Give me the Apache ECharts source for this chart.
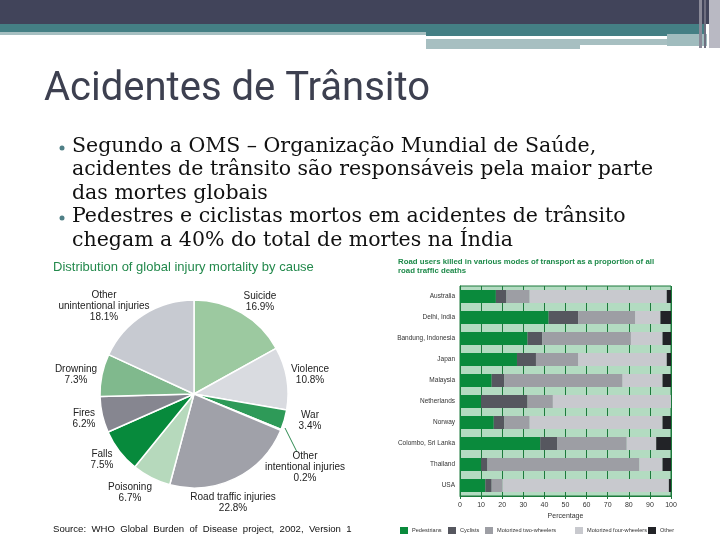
<!DOCTYPE html>
<html><head><meta charset="utf-8">
<script src="https://cdn.jsdelivr.net/npm/echarts@6/dist/echarts.min.js"></script>
<style>html,body{margin:0;padding:0;background:#fff;}#c{width:720px;height:540px;}</style>
</head><body><div id="c"></div>
<script>
// ---- data ----
const pieNames = ['Suicide','Violence','War','Other\nintentional injuries','Road traffic injuries','Poisoning','Falls','Fires','Drowning','Other\nunintentional injuries'];
const pieValues = [16.9,10.8,3.4,0.2,22.8,6.7,7.5,6.2,7.3,18.1];
const countries = ['Australia','Delhi, India','Bandung, Indonesia','Japan','Malaysia','Netherlands','Norway','Colombo, Sri Lanka','Thailand','USA'];
const seriesNames = ['Pedestrians','Cyclists','Motorized two-wheelers','Motorized four-wheelers','Other'];
const pedestrians = [17,42,32,27,15,10,16,38,10,12];
const cyclists = [5,14,7,9,6,22,5,8,3,3];
const twoWheelers = [11,27,42,20,56,12,12,33,72,5];
const fourWheelers = [65,12,15,42,19,56,63,14,11,79];
const others = [2,5,4,2,4,0,4,7,4,1];
const bullets = [
  'Segundo a OMS – Organização Mundial de Saúde,',
  'acidentes de trânsito são responsáveis pela maior parte',
  'das mortes globais',
  'Pedestres e ciclistas mortos em acidentes de trânsito',
  'chegam a 40% do total de mortes na Índia'
];

// ---- styles / layout ----
const pieColors = ['#9cc9a0','#d9dbe0','#2e9a58','#2e9a58','#a0a1a9','#b6d9bc','#078a3c','#868690','#80b98d','#c7cad1'];
const barColors = ['#0a8a3c','#56575f','#9d9ea4','#c8c9ce','#222327'];
const labelPos = [[260,302],[310,375],[310,421],[305,467],[233,503],[130,493],[102,460],[84,419],[76,375],[104,306]];
const legendLeft = [400,448,485,575,648];
const bulletY = [147,170,194,217,241];
const bulletFlag = [true,false,false,true,false];

const chart = echarts.init(document.getElementById('c'));
const graphics = [
  {type:'rect',shape:{x:0,y:0,width:712,height:24},style:{fill:'#41445a'}},
  {type:'rect',shape:{x:0,y:24,width:426,height:8},style:{fill:'#447f84'}},
  {type:'rect',shape:{x:0,y:32,width:426,height:3},style:{fill:'#a6bfc1'}},
  {type:'rect',shape:{x:426,y:24,width:280,height:12},style:{fill:'#447f84'}},
  {type:'rect',shape:{x:426,y:39,width:154,height:10},style:{fill:'#a7bfc1'}},
  {type:'rect',shape:{x:580,y:39,width:127,height:6},style:{fill:'#a7bfc1'}},
  {type:'rect',shape:{x:667,y:34,width:40,height:12},style:{fill:'#a0bcbe'}},
  {type:'rect',shape:{x:699,y:0,width:3,height:48},style:{fill:'#8a8a98'}},
  {type:'rect',shape:{x:704,y:0,width:2,height:48},style:{fill:'#6f6f80'}},
  {type:'rect',shape:{x:709,y:0,width:11,height:48},style:{fill:'#b9b9c3'}},
  {type:'text',left:44,top:70,style:{text:'Acidentes de Trânsito',font:'40px Roboto',fill:'#3d4050'}},
  {type:'text',left:53,top:261,style:{text:'Distribution of global injury mortality by cause',font:'13px "Liberation Sans"',fill:'#23894c'}},
  {type:'text',left:53,top:524,style:{text:'Source:  WHO  Global  Burden  of  Disease  project,  2002,  Version  1',font:'9.6px "Liberation Sans"',fill:'#111'}},
  {type:'text',left:398,top:257,style:{text:'Road users killed in various modes of transport as a proportion of all\nroad traffic deaths',font:'600 7.8px "Liberation Sans"',fill:'#1e8a4a',lineHeight:9}}
];
bullets.forEach((t,i)=>{
  graphics.push({type:'text',x:72,y:bulletY[i],style:{text:t,font:'20.5px "DejaVu Serif"',fill:'#111',textVerticalAlign:'middle'}});
  if(bulletFlag[i]) graphics.push({type:'circle',shape:{cx:62,cy:bulletY[i]+1,r:2.5},style:{fill:'#4f7f86'}});
});

const barData = [pedestrians,cyclists,twoWheelers,fourWheelers,others];
chart.setOption({
  animation:false,
  graphic:graphics,
  grid:{left:460,right:49,top:286,bottom:44,show:true,backgroundColor:'#b3dbc1',borderColor:'#1d7a3c',borderWidth:1},
  legend:seriesNames.map((n,i)=>({left:legendLeft[i],top:527,padding:0,itemWidth:8,itemHeight:7,icon:'rect',
    textStyle:{fontSize:5.6,color:'#333',fontFamily:'Liberation Sans',padding:[0,0,0,-1]},data:[n]})),
  xAxis:{type:'value',min:0,max:100,interval:10,name:'Percentage',nameLocation:'middle',nameGap:17,
    nameTextStyle:{fontSize:7,color:'#333'},
    axisLine:{show:true,lineStyle:{color:'#1d7a3c'}},axisTick:{show:true,length:3,lineStyle:{color:'#1d7a3c'}},
    axisLabel:{fontSize:7,color:'#333',margin:6},splitLine:{show:true,lineStyle:{color:'#1d7a3c',width:1}}},
  yAxis:{type:'category',data:countries,inverse:true,axisLine:{show:true,lineStyle:{color:'#1d7a3c'}},axisTick:{show:false},
    axisLabel:{fontSize:6.5,color:'#333',margin:5}},
  series:[
    {type:'pie',center:[194,394],radius:94,startAngle:90,clockwise:true,
      itemStyle:{borderColor:'#fff',borderWidth:1.5},
      label:{show:true,position:'outside',overflow:'none',formatter:p=>p.name+'\n'+p.value+'%',fontSize:10,lineHeight:11,color:'#222',fontFamily:'Liberation Sans',align:'center'},
      labelLine:{show:false},
      labelLayout:p=>{
        const o={x:labelPos[p.dataIndex][0],y:labelPos[p.dataIndex][1],align:'center',verticalAlign:'middle'};
        if(p.dataIndex===3) o.labelLinePoints=[[285,428],[291,440],[297,452]];
        return o;
      },
      data:pieNames.map((n,i)=>({name:n,value:pieValues[i],itemStyle:{color:pieColors[i]},
        labelLine: i===3?{show:true,smooth:false,lineStyle:{color:'#2e8a50',width:1}}:{show:false}}))
    }
  ].concat(barData.map((d,i)=>({type:'bar',name:seriesNames[i],stack:'all',barWidth:13,data:d,itemStyle:{color:barColors[i]}})))
});
</script></body></html>
